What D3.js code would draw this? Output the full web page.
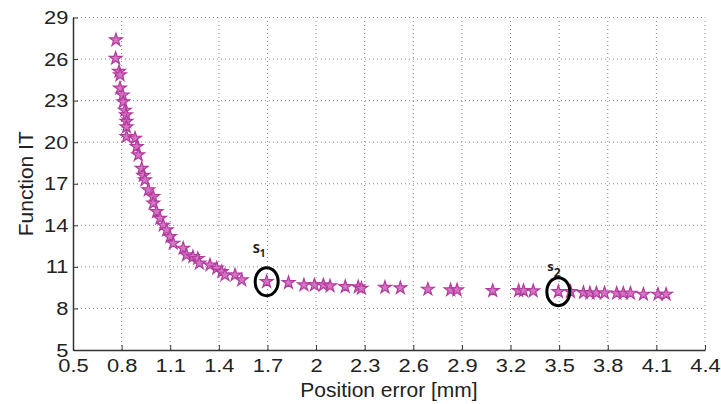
<!DOCTYPE html>
<html>
<head>
<meta charset="utf-8">
<script src="https://cdn.jsdelivr.net/npm/d3@7"></script>
<style>
  body { margin: 0; background: #fff; }
  svg { display: block; }
</style>
</head>
<body>
<div id="chart"></div>
<script>
// Pareto front: position error (mm) vs. function IT
const errorMm = [
  0.765, 0.763, 0.784, 0.79, 0.79, 0.807, 0.81, 0.82, 0.827, 0.83, 0.83, 0.83,
  0.883, 0.893, 0.903, 0.924, 0.934, 0.944, 0.965, 0.995,
  0.995, 1.016, 1.037, 1.057, 1.078, 1.099, 1.119, 1.18, 1.20, 1.24, 1.27, 1.28,
  1.345, 1.387, 1.418, 1.438, 1.50, 1.541,
  1.695, 1.83, 1.925, 1.99, 2.045, 2.086, 2.18, 2.26,
  2.28, 2.425, 2.52, 2.69, 2.83, 2.87, 3.09, 3.25, 3.28, 3.34,
  3.495, 3.57, 3.65, 3.69, 3.73, 3.78, 3.855, 3.896, 3.94, 4.02, 4.11, 4.16
];
const functionIT = [
  27.38, 26.05, 25.1, 24.85, 23.9, 23.4, 22.9, 22.3, 21.96, 21.5, 21.1, 20.4,
  20.28, 19.67, 19.08, 18.1, 17.6, 17.27, 16.55, 16.07,
  15.59, 14.98, 14.5, 14.0, 13.66, 13.18, 12.7, 12.34, 11.86, 11.73, 11.6, 11.26,
  11.13, 10.9, 10.65, 10.41, 10.41, 10.05,
  9.93, 9.86, 9.69, 9.69, 9.69, 9.62, 9.57, 9.55,
  9.45, 9.52, 9.48, 9.38, 9.33, 9.33, 9.28, 9.28, 9.28, 9.26,
  9.21, 9.21, 9.14, 9.11, 9.11, 9.11, 9.09, 9.09, 9.09, 9.02, 9.02, 9.02
];

const xTicks = [0.5, 0.8, 1.1, 1.4, 1.7, 2, 2.3, 2.6, 2.9, 3.2, 3.5, 3.8, 4.1, 4.4];
const yTicks = [5, 8, 11, 14, 17, 20, 23, 26, 29];

// highlighted solutions
const markedLetters = ['S', 's'];
const markedNames = ['1', '2'];
const markedX = [1.695, 3.495];
const markedY = [9.93, 9.21];

const width = 721, height = 404;
const margin = { top: 17.5, right: 16, bottom: 54, left: 73 };

const svg = d3.select('#chart').append('svg')
  .attr('width', width)
  .attr('height', height);

const x = d3.scaleLinear().domain([0.5, 4.4]).range([margin.left, width - margin.right]);
const y = d3.scaleLinear().domain([5, 29]).range([height - margin.bottom, margin.top]);

// dotted grid
const grid = svg.append('g').attr('stroke', '#8a8a8a').attr('stroke-width', 1)
  .attr('stroke-dasharray', '1,3');
grid.selectAll('.gx').data(xTicks.slice(1)).join('line')
  .attr('x1', d => x(d)).attr('x2', d => x(d))
  .attr('y1', y(5)).attr('y2', y(29));
grid.selectAll('.gy').data(yTicks.slice(1)).join('line')
  .attr('x1', x(0.5)).attr('x2', x(4.4))
  .attr('y1', d => y(d)).attr('y2', d => y(d));

// axes (tick text is slightly wide in the original, hence the scaleX)
const fontFam = '"Liberation Sans", Arial, sans-serif';
const xAxis = svg.append('g')
  .attr('transform', `translate(0,${y(5)})`)
  .call(d3.axisBottom(x).tickValues(xTicks).tickFormat(d3.format('')).tickSizeInner(-5).tickSizeOuter(0).tickPadding(9));
const yAxis = svg.append('g')
  .attr('transform', `translate(${x(0.5)},0)`)
  .call(d3.axisLeft(y).tickValues(yTicks).tickSizeInner(-5).tickSizeOuter(0).tickPadding(4));

[xAxis, yAxis].forEach(a => {
  a.selectAll('text')
    .attr('font-family', fontFam)
    .attr('font-size', 19)
    .attr('fill', '#222')
    .attr('transform', 'scale(1.15,1)');
  a.select('.domain').attr('stroke', '#333').attr('stroke-width', 1.5);
  a.selectAll('.tick line').attr('stroke', '#333');
});

svg.append('text')
  .attr('x', (x(0.5) + x(4.4)) / 2)
  .attr('y', 397)
  .attr('text-anchor', 'middle')
  .attr('font-family', fontFam)
  .attr('font-size', 21)
  .attr('fill', '#222')
  .text('Position error [mm]');

svg.append('text')
  .attr('transform', `translate(33,${(y(5) + y(29)) / 2}) rotate(-90)`)
  .attr('text-anchor', 'middle')
  .attr('font-family', fontFam)
  .attr('font-size', 21)
  .attr('fill', '#222')
  .text('Function IT');

// star markers
const star = d3.symbol().type(d3.symbolStar).size(50);
svg.append('g').selectAll('path')
  .data(errorMm.map((v, i) => [v, functionIT[i]]))
  .join('path')
  .attr('d', star)
  .attr('transform', d => `translate(${x(d[0])},${y(d[1])})`)
  .attr('fill', '#d574c4')
  .attr('stroke', '#b23a9c')
  .attr('stroke-width', 1.2);

// circled solutions with labels
const labelPos = [{ dx: -14, dy: -29, sub: 4, subSize: 10 }, { dx: -11, dy: -21, sub: 6, subSize: 12 }];
markedX.forEach((v, i) => {
  const cx = x(v), cy = y(markedY[i]);
  svg.append('ellipse')
    .attr('cx', cx).attr('cy', cy)
    .attr('rx', 11.5).attr('ry', 14)
    .attr('fill', 'none')
    .attr('stroke', '#000')
    .attr('stroke-width', 3);
  const t = svg.append('text')
    .attr('x', cx + labelPos[i].dx)
    .attr('y', cy + labelPos[i].dy)
    .attr('font-family', '"Open Sans", sans-serif')
    .attr('font-weight', 700)
    .attr('font-size', 13)
    .attr('fill', '#222');
  t.append('tspan').text(markedLetters[i]);
  t.append('tspan').attr('dy', labelPos[i].sub).attr('font-size', labelPos[i].subSize).text(markedNames[i]);
});
</script>
</body>
</html>
